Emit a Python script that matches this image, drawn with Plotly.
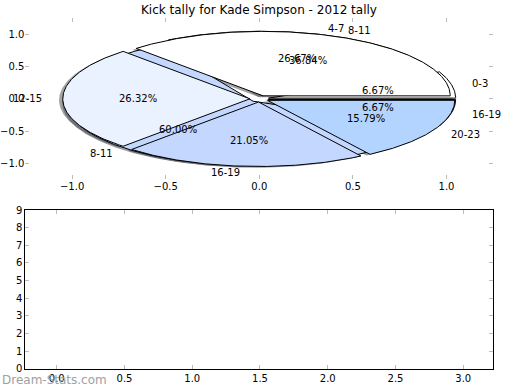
import numpy as np
import plotly.graph_objects as go

# ---- data ----
ranges_a = ["0-3", "4-7", "8-11", "16-19"]
kicks_a = [1, 4, 9, 1]
ranges_b = ["8-11", "12-15", "16-19", "20-23"]
kicks_b = [7, 5, 4, 3]
wedge_colors = ["#FFFFFF", "#EAF1FF", "#C4D7FF", "#B3D4FF"]
pie_ticks = [-1.0, -0.5, 0.0, 0.5, 1.0]
bottom_xticks = [0.0, 0.5, 1.0, 1.5, 2.0, 2.5, 3.0]
bottom_yticks = list(range(0, 10))
title = "Kick tally for Kade Simpson - 2012 tally"

EXPLODE = 0.05
FONT = "DejaVu Sans"

fig = go.Figure()


def hex_rgb(h):
    h = h.lstrip("#")
    return tuple(int(h[i:i + 2], 16) for i in (0, 2, 4))


def wedges(values):
    total = float(sum(values))
    out = []
    t = 0.0
    for v in values:
        frac = v / total
        t1, t2 = 360.0 * t, 360.0 * (t + frac)
        out.append((t1, t2, frac))
        t += frac
    return out


def wedge_poly(t1, t2, dx=0.0, dy=0.0):
    mid = np.deg2rad((t1 + t2) / 2)
    cx, cy = EXPLODE * np.cos(mid) + dx, EXPLODE * np.sin(mid) + dy
    th = np.deg2rad(np.linspace(t1, t2, max(int((t2 - t1) * 2), 4)))
    xs = np.concatenate([[cx], cx + np.cos(th), [cx]])
    ys = np.concatenate([[cy], cy + np.sin(th), [cy]])
    return xs, ys


pies = [(ranges_a, kicks_a), (ranges_b, kicks_b)]

# shadows (drawn below all wedges)
for labels, vals in pies:
    for i, (t1, t2, frac) in enumerate(wedges(vals)):
        r, g, b = hex_rgb(wedge_colors[i % len(wedge_colors)])
        xs, ys = wedge_poly(t1, t2, -0.02, -0.02)
        fig.add_trace(go.Scatter(
            x=xs, y=ys, mode="lines", fill="toself",
            fillcolor=f"rgba({int(r*0.3)},{int(g*0.3)},{int(b*0.3)},0.5)",
            line=dict(width=0), hoverinfo="skip", showlegend=False,
            xaxis="x", yaxis="y"))

annotations = []
for labels, vals in pies:
    for i, (t1, t2, frac) in enumerate(wedges(vals)):
        xs, ys = wedge_poly(t1, t2)
        fig.add_trace(go.Scatter(
            x=xs, y=ys, mode="lines", fill="toself",
            fillcolor=wedge_colors[i % len(wedge_colors)],
            line=dict(color="black", width=1), hoverinfo="skip",
            showlegend=False, xaxis="x", yaxis="y"))
        mid = np.deg2rad((t1 + t2) / 2)
        cx, cy = EXPLODE * np.cos(mid), EXPLODE * np.sin(mid)
        lx, ly = cx + 1.1 * np.cos(mid), cy + 1.1 * np.sin(mid)
        annotations.append(dict(
            x=lx, y=ly, xref="x", yref="y", text=labels[i], showarrow=False,
            xanchor="left" if lx > 0 else "right", yanchor="middle",
            font=dict(family=FONT, size=10, color="black")))
        px, py = cx + 0.6 * np.cos(mid), cy + 0.6 * np.sin(mid)
        annotations.append(dict(
            x=px, y=py, xref="x", yref="y", text="%.2f%%" % (frac * 100),
            showarrow=False, xanchor="center", yanchor="middle",
            font=dict(family=FONT, size=10, color="black")))

# empty bottom axes
fig.add_trace(go.Scatter(x=[], y=[], xaxis="x2", yaxis="y2", showlegend=False))

annotations.append(dict(
    x=259 / 520, y=1 - 10 / 390, xref="paper", yref="paper", text=title,
    showarrow=False, xanchor="center", yanchor="middle",
    font=dict(family=FONT, size=12, color="black")))
annotations.append(dict(
    x=0.0, y=1 - 380 / 390, xref="paper", yref="paper", text="Dream-Stats.com",
    showarrow=False, xanchor="left", yanchor="middle",
    font=dict(family=FONT, size=12, color="#a0a0a0")))


def fmt(v):
    s = "%.1f" % v
    return s.replace("-", "\u2212")


xdom = [25.3 / 520, 493.3 / 520]
tickstyle = dict(ticks="inside", ticklen=4, tickcolor="#bbbbbb", tickwidth=1,
                 showgrid=False, zeroline=False, automargin=False,
                 tickfont=dict(family=FONT, size=10, color="black"))

fig.update_layout(
    width=520, height=390,
    margin=dict(l=0, r=0, t=0, b=0, autoexpand=False),
    paper_bgcolor="white", plot_bgcolor="white",
    annotations=annotations,
    xaxis=dict(domain=xdom, range=[-1.25, 1.25], tickvals=pie_ticks,
               ticktext=[fmt(v) for v in pie_ticks], showline=False,
               mirror="ticks", anchor="y", **tickstyle),
    yaxis=dict(domain=[1 - 179.4 / 390, 1 - 18.2 / 390], range=[-1.25, 1.25],
               tickvals=pie_ticks, ticktext=[fmt(v) for v in pie_ticks],
               showline=False, mirror="ticks", anchor="x", **tickstyle),
    xaxis2=dict(domain=xdom, range=[-0.232, 3.222], tickvals=bottom_xticks,
                ticktext=[fmt(v) for v in bottom_xticks], showline=True,
                linecolor="black", linewidth=1, mirror="ticks", anchor="y2",
                **tickstyle),
    yaxis2=dict(domain=[1 - 368.7 / 390, 1 - 210 / 390], range=[0, 9],
                tickvals=bottom_yticks, showline=True, linecolor="black",
                linewidth=1, mirror="ticks", anchor="x2", **tickstyle),
)

fig.write_html("out.html",
               config={"displayModeBar": False},
               post_script="document.body.style.margin='0';"
                           "document.body.style.padding='0';")
